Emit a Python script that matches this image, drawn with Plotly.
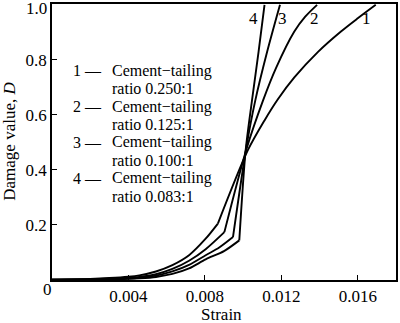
import plotly.graph_objects as go

# ---- data ----
strain1 = [0, 0.002, 0.003, 0.004, 0.00457, 0.00544, 0.0063, 0.00717, 0.00804, 0.00868,
           0.01023, 0.01112, 0.01181, 0.01268, 0.01392, 0.01512, 0.0160, 0.01694]
D1 = [0.001, 0.004, 0.007, 0.012, 0.017, 0.031, 0.054, 0.090, 0.150, 0.205,
      0.469, 0.580, 0.656, 0.736, 0.829, 0.903, 0.951, 1.0]
kink1 = 9

strain2 = [0, 0.002, 0.003, 0.004, 0.00457, 0.00544, 0.0063, 0.00717, 0.00804, 0.00902,
           0.01018, 0.01103, 0.01172, 0.01268, 0.01325, 0.01387]
D2 = [0.001, 0.003, 0.005, 0.008, 0.011, 0.021, 0.040, 0.070, 0.112, 0.174,
      0.477, 0.650, 0.770, 0.903, 0.957, 1.0]
kink2 = 9

strain3 = [0, 0.002, 0.003, 0.004, 0.00457, 0.00544, 0.0063, 0.00717, 0.00804, 0.00875, 0.00947,
           0.01018, 0.01063, 0.01126, 0.01193]
D3 = [0.001, 0.002, 0.003, 0.005, 0.008, 0.016, 0.031, 0.055, 0.090, 0.118, 0.156,
      0.487, 0.650, 0.830, 1.0]
kink3 = 10

strain4 = [0, 0.002, 0.003, 0.004, 0.00457, 0.00544, 0.0063, 0.00717, 0.00804, 0.0090, 0.0098,
           0.01013, 0.01046, 0.01081, 0.01112]
D4 = [0.001, 0.0015, 0.002, 0.004, 0.006, 0.011, 0.022, 0.042, 0.075, 0.105, 0.144,
      0.469, 0.650, 0.830, 1.0]
kink4 = 10

curve_ids = ["1", "2", "3", "4"]
ratios = ["0.250:1", "0.125:1", "0.100:1", "0.083:1"]
x_ticks = [0.004, 0.008, 0.012, 0.016]
x_ticklabels = ["0.004", "0.008", "0.012", "0.016"]
y_ticks = [0.2, 0.4, 0.6, 0.8, 1.0]
y_ticklabels = ["0.2", "0.4", "0.6", "0.8", ""]   # "1.0" drawn just below the frame top

FONT = "Liberation Serif"
FS = 17
FS_LEG = 16

fig = go.Figure()
for xs, ys, k in [(strain1, D1, kink1), (strain2, D2, kink2),
                  (strain3, D3, kink3), (strain4, D4, kink4)]:
    fig.add_trace(go.Scatter(x=xs[:k + 1], y=ys[:k + 1], mode="lines",
                             line=dict(color="black", width=1.9, shape="spline", smoothing=0.8),
                             showlegend=False, hoverinfo="skip"))
    fig.add_trace(go.Scatter(x=xs[k:], y=ys[k:], mode="lines",
                             line=dict(color="black", width=1.9, shape="spline", smoothing=0.8),
                             showlegend=False, hoverinfo="skip"))

L, R, T, B = 52, 398, 3, 280
W, H = 400, 323
YMAX = 1.003


def xp(px):
    return (px - L) / (R - L)


def yp(py):
    return (B - py) / (B - T)


ann = []
font = dict(family=FONT, size=FS, color="black")
font_leg = dict(family=FONT, size=FS_LEG, color="black")
rows = [(70, 88), (106, 124), (142, 160), (178, 196)]
for cid, ratio, (y1, y2) in zip(curve_ids, ratios, rows):
    ann.append(dict(x=xp(103), y=yp(y1), xref="paper", yref="paper", text=cid + " \u2014",
                    showarrow=False, xanchor="right", yanchor="middle", font=font_leg,
                    borderpad=0))
    ann.append(dict(x=xp(111), y=yp(y1), xref="paper", yref="paper", text="Cement\u2212tailing",
                    showarrow=False, xanchor="left", yanchor="middle", font=font_leg,
                    borderpad=0))
    ann.append(dict(x=xp(111), y=yp(y2), xref="paper", yref="paper", text="ratio " + ratio,
                    showarrow=False, xanchor="left", yanchor="middle", font=font_leg,
                    borderpad=0))

# curve labels near the top
for cid, px in zip(["4", "3", "2", "1"], [255, 284, 316, 368]):
    ann.append(dict(x=xp(px), y=yp(18), xref="paper", yref="paper", text=cid,
                    showarrow=False, xanchor="center", yanchor="middle", font=font))

# shared origin label and top y label
ann.append(dict(x=xp(47), y=yp(290), xref="paper", yref="paper", text="0",
                showarrow=False, xanchor="center", yanchor="middle", font=font))
ann.append(dict(x=xp(48), y=yp(8), xref="paper", yref="paper", text="1.0",
                showarrow=False, xanchor="right", yanchor="middle", font=font, borderpad=0))
# axis titles
ann.append(dict(x=xp(9), y=yp(141), xref="paper", yref="paper", text="Damage value, <i>D</i>",
                showarrow=False, xanchor="center", yanchor="middle", textangle=-90, font=font))
ann.append(dict(x=xp(222), y=yp(315), xref="paper", yref="paper", text="Strain",
                showarrow=False, xanchor="center", yanchor="middle", font=font, borderpad=0))

fig.update_layout(
    width=W, height=H,
    margin=dict(l=L, r=W - R, t=T, b=H - B),
    paper_bgcolor="white", plot_bgcolor="white",
    font=font,
    annotations=ann,
    xaxis=dict(range=[0, 0.018], tickvals=x_ticks, ticktext=x_ticklabels,
               ticks="inside", ticklen=5, tickwidth=1, tickcolor="black",
               showline=True, linecolor="black", linewidth=1.5, mirror=True,
               showgrid=False, zeroline=False, tickfont=font),
    yaxis=dict(range=[0, YMAX], tickvals=y_ticks, ticktext=y_ticklabels,
               ticks="inside", ticklen=5, tickwidth=1, tickcolor="black",
               showline=True, linecolor="black", linewidth=1.5, mirror=True,
               showgrid=False, zeroline=False, tickfont=font),
)

fig.write_html("out.html")
